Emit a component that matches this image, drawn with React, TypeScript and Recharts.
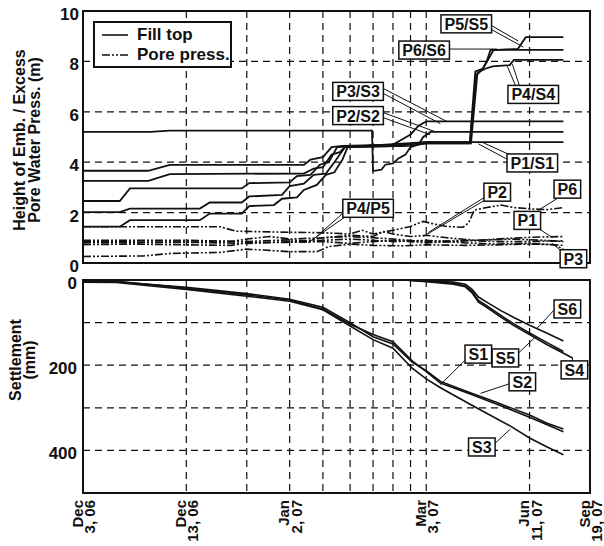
import {
  LineChart, Line, XAxis, YAxis, CartesianGrid, ReferenceArea,
  ReferenceLine, ReferenceDot, Legend,
} from 'recharts';

const FONT = "'Liberation Sans', Arial, sans-serif";
const INK = '#111';
const PORE_DASH = '8 2 2 2 2 2';

// time axis: elapsed days, Dec 3 06 = day 10 (log scale)
const gridDays = [10, 20, 30, 40, 50, 60, 70, 80, 90, 100, 200, 300];
const dateTicks = [10, 20, 40, 100, 200, 300];
const dateLine1 = ['Dec', 'Dec', 'Jan', 'Mar', 'Jun', 'Sep'];
const dateLine2 = ['3, 06', '13, 06', '2, 07', '3, 07', '11, 07', '19, 07'];

const heightTicks = [0, 2, 4, 6, 8, 10];
const settleTicks = [0, 100, 200, 300, 400, 500];

// fill top (m)
const fillP1 = [[10, 1.44], [12.8, 1.44], [13.7, 1.7], [21.9, 1.7], [23.4, 1.96], [29, 1.96], [30.5, 2.26], [36, 2.3], [38, 2.55], [42, 2.6], [44, 2.9], [48, 3.1], [51, 3.5], [54, 3.6], [57, 4.1], [59, 4.6], [84, 4.65], [92, 4.75], [100, 4.8], [251, 4.8]];
const fillP2 = [[10, 5.2], [15.7, 5.2], [17.9, 5.25], [69.5, 5.25], [70, 3.65], [74, 3.7], [76, 3.9], [80, 3.95], [83, 4.15], [87, 4.3], [90, 4.6], [95, 4.7], [98, 5.0], [103, 5.2], [251, 5.2]];
const fillP3 = [[10, 3.66], [15.5, 3.66], [17.9, 3.89], [44, 3.89], [46, 4.1], [50, 4.2], [53, 4.6], [57, 4.65], [80, 4.7], [85, 4.9], [90, 5.1], [95, 5.45], [100, 5.62], [251, 5.62]];
const fillP4 = [[10, 3.26], [15.5, 3.26], [17.9, 3.53], [44, 3.55], [47, 3.75], [50, 3.8], [53, 4.3], [56, 4.4], [58, 4.6], [90, 4.65], [100, 4.75], [135, 4.75], [141, 7.55], [148, 7.7], [156, 7.8], [175, 7.85], [180, 8.06], [251, 8.06]];
const fillP5 = [[10, 2.02], [12.8, 2.02], [13.7, 2.16], [21.9, 2.16], [23.4, 2.4], [29, 2.4], [30.5, 2.64], [38, 2.7], [40, 3.05], [44, 3.15], [47, 3.5], [51, 3.55], [54, 4.0], [58, 4.6], [100, 4.8], [134, 4.8], [139, 7.6], [146, 7.7], [152, 8.1], [157, 8.45], [185, 8.5], [195, 8.96], [251, 8.96]];
const fillP6 = [[10, 2.46], [12.8, 2.46], [13.7, 2.96], [29, 2.96], [30.5, 3.17], [40, 3.2], [42, 3.45], [46, 3.5], [49, 3.9], [52, 4.0], [55, 4.6], [100, 4.75], [134, 4.75], [140, 7.45], [146, 7.7], [150, 8.0], [154, 8.46], [251, 8.46]];

// excess pore water pressure (m)
const poreP1 = [[10, 0.73], [14, 0.75], [20, 0.72], [27, 0.7], [30, 0.8], [40, 0.82], [50, 0.85], [60, 0.78], [70, 0.85], [80, 0.9], [90, 0.85], [100, 0.8], [120, 0.85], [140, 0.9], [160, 0.95], [200, 1.02], [251, 1.05]];
const poreP2 = [[10, 0.86], [20, 0.88], [27, 0.85], [30, 0.95], [35, 1.05], [40, 0.95], [50, 1.0], [60, 1.1], [70, 1.05], [75, 1.25], [80, 1.15], [90, 1.05], [100, 1.1], [115, 1.0], [140, 0.9], [180, 0.95], [220, 0.9], [251, 0.85]];
const poreP3 = [[10, 0.26], [15, 0.28], [18, 0.38], [25, 0.42], [30, 0.55], [35, 0.5], [40, 0.45], [48, 0.45], [52, 0.65], [60, 0.75], [70, 0.7], [85, 0.68], [100, 0.72], [130, 0.7], [160, 0.72], [200, 0.75], [235, 0.73], [251, 0.55]];
const poreP4 = [[10, 0.8], [20, 0.82], [30, 0.78], [40, 0.85], [45, 0.85], [50, 0.9], [60, 0.95], [70, 0.9], [80, 0.85], [100, 0.9], [130, 0.8], [160, 0.75], [200, 0.78], [251, 0.7]];
const poreP5 = [[10, 0.9], [20, 0.9], [30, 0.85], [40, 0.92], [45, 0.88], [50, 1.0], [60, 1.05], [70, 1.0], [80, 0.95], [100, 0.85], [130, 0.9], [160, 0.85], [200, 0.85], [251, 0.88]];
const poreP6 = [[10, 1.44], [25, 1.44], [28, 1.26], [40, 1.22], [50, 1.2], [60, 1.15], [65, 1.3], [70, 1.15], [80, 1.3], [90, 1.45], [98, 1.65], [105, 1.55], [115, 1.45], [128, 1.42], [133, 1.6], [138, 2.1], [150, 2.2], [165, 2.3], [180, 2.2], [200, 2.15], [225, 2.12], [251, 2.2]];

// settlement (mm)
const settleS1 = [[10, 4], [12.5, 4], [20, 17], [30, 32], [40, 45], [50, 64], [60, 100], [70, 133], [80, 150], [91, 193], [100, 213], [110, 238], [135, 265], [160, 287], [200, 317], [225, 336], [251, 350]];
const settleS2 = [[10, 3], [12.5, 3], [20, 19], [30, 35], [40, 47], [50, 68], [60, 104], [70, 128], [80, 145], [91, 190], [100, 215], [110, 242], [135, 268], [160, 291], [200, 322], [225, 340], [251, 356]];
const settleS3 = [[10, 5], [12.5, 6], [20, 22], [30, 38], [40, 50], [50, 70], [60, 108], [70, 140], [80, 160], [91, 207], [100, 232], [110, 253], [135, 293], [160, 325], [176, 343], [200, 371], [225, 392], [251, 410]];
const settleS4 = [[86, 0], [100, 4], [120, 10], [130, 16], [136, 30], [142, 52], [150, 64], [165, 87], [180, 107], [200, 128], [225, 152], [267, 183]];
const settleS5 = [[86, 0], [100, 3], [120, 8], [130, 14], [136, 27], [142, 48], [150, 60], [165, 83], [180, 103], [200, 124], [225, 147], [251, 168]];
const settleS6 = [[88, 0], [100, 2], [120, 5], [130, 10], [136, 22], [142, 40], [150, 52], [165, 72], [180, 88], [200, 106], [225, 125], [251, 143]];

// callout tags: [day, value, text] and leader segments [day1, v1, day2, v2]
const topTags = [
  [130.8, 9.49, 'P5/S5'], [98.6, 8.45, 'P6/S6'], [205, 6.69, 'P4/S4'],
  [63.3, 6.81, 'P3/S3'], [63.3, 5.85, 'P2/S2'], [203.7, 3.97, 'P1/S1'],
  [161, 2.81, 'P2'], [257.7, 2.93, 'P6'], [197, 1.69, 'P1'],
  [268.4, 0.17, 'P3'], [67.7, 2.17, 'P4/P5'],
];
const topLeaders = [
  [153.7, 9.45, 185.4, 8.81], [153.7, 9.29, 191.8, 8.57],
  [116.7, 8.49, 161, 8.49],
  [181.9, 7.05, 172.2, 7.81], [186.7, 7.05, 178.2, 7.89],
  [74.9, 6.93, 115.1, 5.61], [74.9, 6.73, 109.9, 5.53],
  [74.9, 5.97, 106.2, 5.21], [74.9, 5.77, 102.7, 5.09],
  [178.2, 4.25, 146.6, 4.77], [175.8, 4.05, 141.8, 4.73],
  [149.6, 2.65, 101.4, 1.21], [149.6, 2.53, 98, 1.05],
  [244.2, 2.61, 211.9, 2.09],
  [207.9, 1.45, 233, 1.01],
  [251, 0.41, 233, 0.77],
  [58, 2.05, 46.5, 0.89], [58.9, 1.89, 45.3, 0.81],
];
const bottomTags = [
  [257.7, 68, 'S6'], [170, 183, 'S5'], [270.2, 211, 'S4'],
  [141.8, 174, 'S1'], [190.5, 239, 'S2'], [145.2, 392, 'S3'],
];
const bottomLeaders = [
  [236.1, 70, 210.6, 113],
  [184.3, 174, 207.9, 134],
  [266, 192, 267, 183],
  [131.7, 183, 109.9, 246],
  [177, 242, 144, 266],
  [156.8, 387, 175.8, 350],
];

const toPts = (arr: number[][]) => arr.map(([t, v]) => ({ t, v }));

const charW = (c: string) => (c === '/' ? 0.278 : /[0-9]/.test(c) ? 0.556 : 0.667);

const Tag = ({ cx, cy, text }: { cx: number; cy: number; text: string }) => {
  const w = text.split('').reduce((s, c) => s + charW(c), 0) * 16 + 7;
  return (
    <g>
      <rect x={cx - w / 2} y={cy - 9} width={w} height={18} fill="#fff" stroke={INK} strokeWidth={1.5} />
      <text x={cx} y={cy + 6} textAnchor="middle" fontSize={16} fontWeight="bold" fill={INK} fontFamily={FONT}>
        {text}
      </text>
    </g>
  );
};

const NoTick = () => <g />;

const DateTick = ({ x, y, payload }: any) => {
  const i = dateTicks.indexOf(payload.value);
  if (i < 0) return <g />;
  return (
    <g transform={`translate(${x},${y})`}>
      <text transform="rotate(-90)" textAnchor="end" fontSize={15} fontWeight="bold" fill={INK} fontFamily={FONT}>
        <tspan x={-7} y={-0.5}>{dateLine1[i]}</tspan>
        <tspan x={-7} y={12}>{dateLine2[i]}</tspan>
      </text>
    </g>
  );
};

const LegendBox = () => (
  <div style={{
    width: 139, height: 47, boxSizing: 'border-box', border: `2px solid ${INK}`, background: '#fff',
    fontFamily: FONT, fontWeight: 'bold', fontSize: 17, color: INK, paddingTop: 2, paddingLeft: 7,
  }}>
    {[['Fill top', undefined], ['Pore press.', PORE_DASH]].map(([name, dash]) => (
      <div key={name} style={{ display: 'flex', alignItems: 'center', height: 20 }}>
        <svg width={26} height={6} style={{ marginRight: 9 }}>
          <line x1={0} y1={3} x2={26} y2={3} stroke={INK} strokeWidth={1.6} strokeDasharray={dash} />
        </svg>
        <span>{name}</span>
      </div>
    ))}
  </div>
);

const tickStyle = { fontSize: 17, fontWeight: 'bold', fill: INK, fontFamily: FONT, dy: 3 };

const axisTitle = (lines: string[], xs: number[], cy: number) => () => (
  <g>
    {lines.map((s, i) => (
      <text key={s} x={xs[i]} y={cy} transform={`rotate(-90, ${xs[i]}, ${cy})`} textAnchor="middle"
        fontSize={16} fontWeight="bold" fill={INK} fontFamily={FONT}>{s}</text>
    ))}
  </g>
);

const App = () => {
  const fills = [fillP1, fillP2, fillP3, fillP4, fillP5, fillP6];
  const pores = [poreP1, poreP2, poreP3, poreP4, poreP5, poreP6];
  const settles = [settleS1, settleS2, settleS3, settleS4, settleS5, settleS6];

  return (
    <div style={{ position: 'absolute', left: 0, top: 0, width: 604, height: 546, background: '#fff' }}>
      <LineChart width={604} height={275} margin={{ top: 11, right: 14, bottom: 11, left: 0 }}>
        <CartesianGrid stroke={INK} strokeDasharray="7 5" strokeWidth={1.2} />
        <XAxis dataKey="t" type="number" scale="log" domain={[10, 300]} allowDataOverflow ticks={gridDays}
          interval={0} height={1} tick={<NoTick />} tickLine={false} axisLine={false} />
        <YAxis type="number" domain={[0, 10]} ticks={heightTicks} interval={0} width={83}
          axisLine={false} tickLine={false} tickSize={0} tickMargin={4} tick={tickStyle}
          label={{ content: axisTitle(['Height of Emb. / Excess', 'Pore Water Press. (m)'], [25, 40], 140) }} />
        <ReferenceArea x1={10} x2={300} y1={0} y2={10} fill="none" stroke={INK} strokeWidth={2} ifOverflow="visible" />
        {pores.map((d, i) => (
          <Line key={`p${i}`} data={toPts(d)} dataKey="v" stroke={INK} strokeWidth={1.6}
            strokeDasharray={PORE_DASH} dot={false} isAnimationActive={false} />
        ))}
        {fills.map((d, i) => (
          <Line key={`f${i}`} data={toPts(d)} dataKey="v" stroke={INK} strokeWidth={1.8}
            dot={false} isAnimationActive={false} />
        ))}
        {topLeaders.map(([a, b, c, d], i) => (
          <ReferenceLine key={`tl${i}`} segment={[{ x: a, y: b }, { x: c, y: d }]} stroke={INK} strokeWidth={1} ifOverflow="visible" />
        ))}
        {topTags.map(([t, v, s]) => (
          <ReferenceDot key={s as string} x={t as number} y={v as number} r={1} ifOverflow="visible"
            shape={(p: any) => <Tag cx={p.cx} cy={p.cy} text={s as string} />} />
        ))}
        <Legend layout="vertical" align="center" verticalAlign="middle" content={<LegendBox />}
          wrapperStyle={{ left: 93, top: 21, width: 139, height: 47 }} />
      </LineChart>

      <div style={{ position: 'absolute', left: 0, top: 270 }}>
        <LineChart width={604} height={276} margin={{ top: 10, right: 14, bottom: 0, left: 0 }}>
          <CartesianGrid stroke={INK} strokeDasharray="7 5" strokeWidth={1.2} />
          <XAxis dataKey="t" type="number" scale="log" domain={[10, 300]} allowDataOverflow ticks={gridDays}
            interval={0} height={53} tickLine={false} axisLine={false} tickSize={0} tickMargin={0} tick={<DateTick />} />
          <YAxis type="number" domain={[0, 500]} reversed ticks={settleTicks} interval={0} width={83}
            axisLine={false} tickLine={false} tickSize={0} tickMargin={6} tick={tickStyle}
            tickFormatter={(v: number) => (v % 200 === 0 && v < 500 ? String(v) : '')}
            label={{ content: axisTitle(['Settlement', '(mm)'], [21, 35], 90) }} />
          <ReferenceArea x1={10} x2={300} y1={0} y2={500} fill="none" stroke={INK} strokeWidth={2} ifOverflow="visible" />
          {settles.map((d, i) => (
            <Line key={`s${i}`} data={toPts(d)} dataKey="v" stroke={INK} strokeWidth={1.6}
              dot={false} isAnimationActive={false} />
          ))}
          {bottomLeaders.map(([a, b, c, d], i) => (
            <ReferenceLine key={`bl${i}`} segment={[{ x: a, y: b }, { x: c, y: d }]} stroke={INK} strokeWidth={1} ifOverflow="visible" />
          ))}
          {bottomTags.map(([t, v, s]) => (
            <ReferenceDot key={s as string} x={t as number} y={v as number} r={1} ifOverflow="visible"
              shape={(p: any) => <Tag cx={p.cx} cy={p.cy} text={s as string} />} />
          ))}
        </LineChart>
      </div>
    </div>
  );
};

export default App;
